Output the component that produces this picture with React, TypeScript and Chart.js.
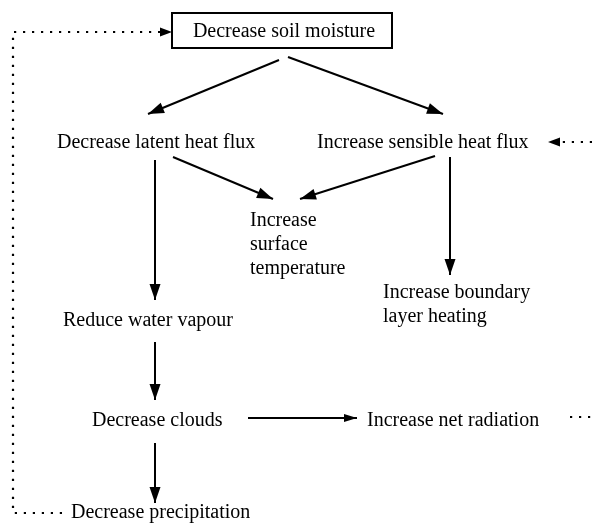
import React, { useEffect, useRef } from "react";
import { Chart, registerables } from "chart.js";

Chart.register(...registerables);

const W = 594;
const H = 525;
const FONT = "20px 'Liberation Serif', 'Times New Roman', Times, serif";

// Node labels (flowchart text)
const nodeLabels = [
  "Decrease soil moisture",
  "Decrease latent heat flux",
  "Increase sensible heat flux",
  "Increase\nsurface\ntemperature",
  "Increase boundary\nlayer heating",
  "Reduce water vapour",
  "Decrease clouds",
  "Increase net radiation",
  "Decrease precipitation",
];
// Node anchor in data units (x, first-line baseline y)
const nodeX = [284, 57, 317, 250, 383, 63, 92, 367, 71];
const nodeY = [37, 148, 148, 226, 298, 326, 426, 426, 518];
const nodeAlign = ["center", "left", "left", "left", "left", "left", "left", "left", "left"];
const lineGap = 24;

// Framed node (soil moisture)
const boxX = [172, 392];
const boxY = [13, 48];

// Solid arrows: start -> tip
const arrowX1 = [279, 288, 155, 173, 435, 450, 155, 155, 248];
const arrowY1 = [60, 57, 160, 157, 156, 157, 342, 443, 418];
const arrowX2 = [148, 443, 155, 273, 300, 450, 155, 155, 357];
const arrowY2 = [114, 114, 300, 199, 199, 275, 400, 503, 418];

// Dotted feedback paths
const feedbackLeftX = [62, 13, 13, 161];
const feedbackLeftY = [513, 513, 32, 32];
const feedbackRightX = [592, 558];
const feedbackRightY = [142, 142];
const feedbackNetX = [570, 594];
const feedbackNetY = [417, 417];
// Dotted arrowheads: [tipX, tipY, fromX, fromY]
const dottedHeads = [
  [172, 32, 150, 32],
  [548, 142, 570, 142],
];

function pts(xs: number[], ys: number[]) {
  return xs.map((x, i) => ({ x, y: ys[i] }));
}

export default function App() {
  const ref = useRef<HTMLCanvasElement | null>(null);

  useEffect(() => {
    const canvas = ref.current;
    if (!canvas) return;

    const solid = arrowX1.map((_, i) => ({
      data: pts([arrowX1[i], arrowX2[i]], [arrowY1[i], arrowY2[i]]),
      showLine: true,
      borderColor: "#000",
      borderWidth: 2,
      pointRadius: 0,
      fill: false,
      clip: false as any,
    }));
    const dotted = [
      [feedbackLeftX, feedbackLeftY],
      [feedbackRightX, feedbackRightY],
      [feedbackNetX, feedbackNetY],
    ].map(([xs, ys]) => ({
      data: pts(xs, ys),
      showLine: true,
      borderColor: "#000",
      borderWidth: 2.2,
      borderDash: [2.2, 6.8],
      pointRadius: 0,
      fill: false,
      clip: false as any,
    }));

    const flowPlugin = {
      id: "flow",
      afterDatasetsDraw(chart: any) {
        const ctx = chart.ctx as CanvasRenderingContext2D;
        const xs = chart.scales.x;
        const ys = chart.scales.y;
        const px = (v: number) => xs.getPixelForValue(v);
        const py = (v: number) => ys.getPixelForValue(v);
        ctx.save();
        ctx.fillStyle = "#000";
        ctx.strokeStyle = "#000";

        const head = (x1: number, y1: number, x2: number, y2: number, len: number, half: number) => {
          const ax = px(x1), ay = py(y1), bx = px(x2), by = py(y2);
          const ang = Math.atan2(by - ay, bx - ax);
          const c = Math.cos(ang), s = Math.sin(ang);
          ctx.beginPath();
          ctx.moveTo(bx, by);
          ctx.lineTo(bx - len * c - half * s, by - len * s + half * c);
          ctx.lineTo(bx - len * c + half * s, by - len * s - half * c);
          ctx.closePath();
          ctx.fill();
        };

        arrowX1.forEach((_, i) => {
          const horiz = arrowY1[i] === arrowY2[i];
          head(arrowX1[i], arrowY1[i], arrowX2[i], arrowY2[i], horiz ? 13 : 16, horiz ? 4 : 5.5);
        });
        dottedHeads.forEach(([tx, ty, fx, fy]) => {
          head(fx, fy, tx, ty, 12, 4.5);
        });

        // framed node
        ctx.lineWidth = 2;
        ctx.strokeRect(px(boxX[0]), py(boxY[0]), px(boxX[1]) - px(boxX[0]), py(boxY[1]) - py(boxY[0]));

        ctx.font = FONT;
        ctx.textBaseline = "alphabetic";
        nodeLabels.forEach((label, i) => {
          ctx.textAlign = nodeAlign[i] as CanvasTextAlign;
          label.split("\n").forEach((line, k) => {
            ctx.fillText(line, px(nodeX[i]), py(nodeY[i] + k * lineGap));
          });
        });
        ctx.restore();
      },
    };

    const chart = new Chart(canvas, {
      type: "scatter",
      data: { datasets: [...solid, ...dotted] as any },
      options: {
        animation: false,
        responsive: false,
        maintainAspectRatio: false,
        layout: { padding: 0 },
        plugins: { legend: { display: false }, tooltip: { enabled: false } },
        events: [],
        scales: {
          x: { type: "linear", min: 0, max: W, display: false },
          y: { type: "linear", min: 0, max: H, reverse: true, display: false },
        },
      },
      plugins: [flowPlugin],
    });
    return () => chart.destroy();
  }, []);

  return (
    <div style={{ position: "fixed", left: 0, top: 0, width: W, height: H, background: "#fff" }}>
      <canvas ref={ref} width={W} height={H} style={{ display: "block", width: W, height: H }} />
    </div>
  );
}
